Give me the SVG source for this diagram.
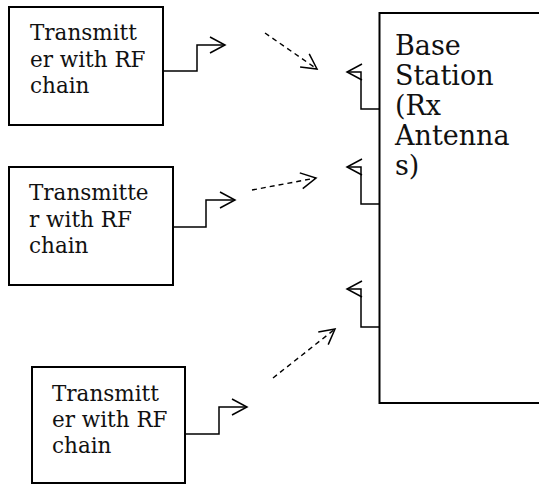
<svg xmlns="http://www.w3.org/2000/svg" width="539" height="485" viewBox="0 0 539 485">
<style>
.box{fill:#fff;stroke:#000;stroke-width:2}
.t{font-family:"DejaVu Serif","Liberation Serif",serif;font-size:21.5px;fill:#111}
.tb{font-family:"DejaVu Serif","Liberation Serif",serif;font-size:27px;fill:#111}
.ant{fill:none;stroke:#000;stroke-width:1.5;marker-end:url(#open)}
.dash{fill:none;stroke:#000;stroke-width:1.4;stroke-dasharray:5,4;marker-end:url(#open)}
</style>
<defs>
<marker id="open" markerUnits="userSpaceOnUse" markerWidth="20" markerHeight="20" viewBox="-17 -10 20 20" refX="0" refY="0" orient="auto" overflow="visible">
<path d="M-15,-8 L0,0 L-15,8" fill="none" stroke="#000" stroke-width="1.5" stroke-dasharray="none"/>
</marker>
</defs>
<g id="base-station">
<rect class="box" x="379.5" y="13" width="170" height="390"/>
<text class="tb" x="395" y="55">Base</text>
<text class="tb" x="395" y="85">Station</text>
<text class="tb" x="395" y="115">(Rx</text>
<text class="tb" x="395" y="145">Antenna</text>
<text class="tb" x="395" y="175">s)</text>
</g>
<g id="tx1">
<rect class="box" x="9" y="7" width="154" height="118"/>
<text class="t" x="30" y="40">Transmitt</text>
<text class="t" x="30" y="67">er with RF</text>
<text class="t" x="30" y="93">chain</text>
</g>
<g id="tx2">
<rect class="box" x="9" y="167" width="164" height="118"/>
<text class="t" x="29" y="200">Transmitte</text>
<text class="t" x="29" y="227">r with RF</text>
<text class="t" x="29" y="253">chain</text>
</g>
<g id="tx3">
<rect class="box" x="32" y="367" width="153" height="116"/>
<text class="t" x="52" y="401">Transmitt</text>
<text class="t" x="52" y="427">er with RF</text>
<text class="t" x="52" y="453">chain</text>
</g>
<g id="connectors">
<path class="ant" d="M163,71 H197 V45 H225"/>
<path class="ant" d="M173,227 H206 V200 H235"/>
<path class="ant" d="M185,434 H219 V407 H247"/>
<path class="ant" d="M379,109 H361 V72 H347"/>
<path class="ant" d="M379,204 H361 V167 H347"/>
<path class="ant" d="M379,327 H361 V289 H347"/>
<path class="dash" d="M265,33 L317,69"/>
<path class="dash" d="M252,190 L316,178"/>
<path class="dash" d="M273,378 L335,329"/>
</g>
</svg>
